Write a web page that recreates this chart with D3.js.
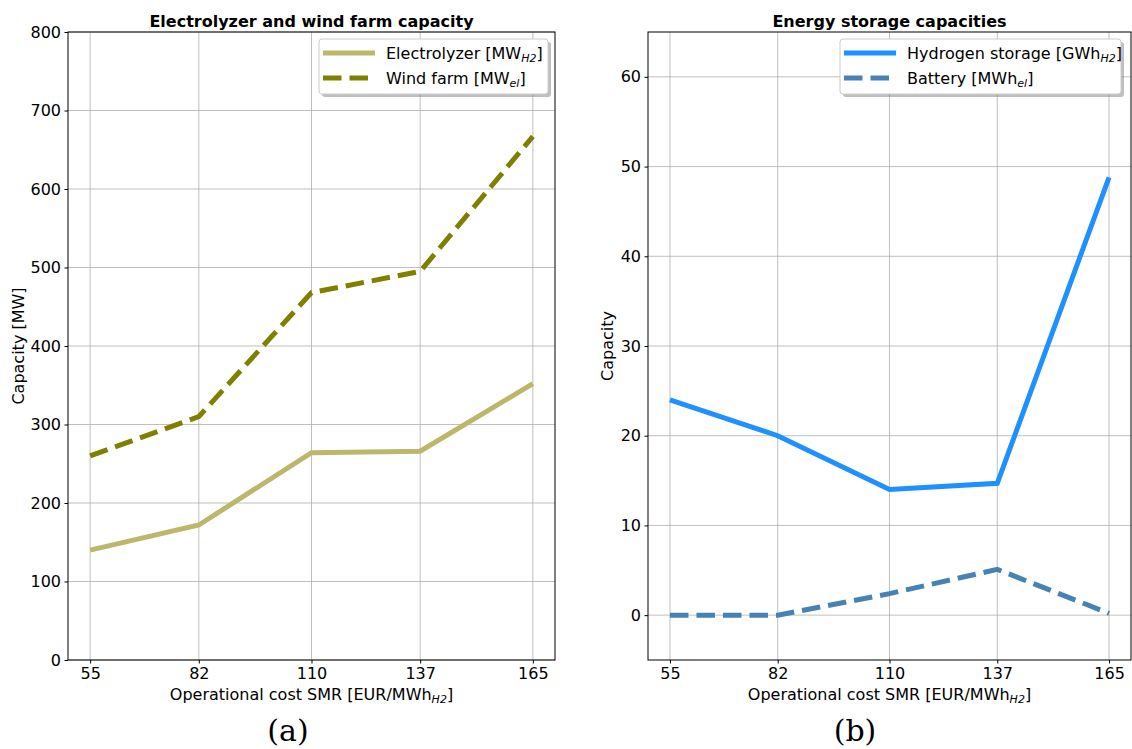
<!DOCTYPE html>
<html>
<head>
<meta charset="utf-8">
<script src="https://cdn.jsdelivr.net/npm/d3@7"></script>
<style>
	body { margin:0; background:#fff; }
	svg text { font-family: 'DejaVu Sans', sans-serif; fill:#000; }
	.grid line { stroke:#b0b0b0; stroke-width:0.8; }
	.axis path, .axis line { stroke:#000; }
</style>
</head>
<body>
<svg id="chart" width="1132" height="749"></svg>
<script>

// data
var costs = [55, 82, 110, 137, 165];
var electrolyzer = [140, 172, 264, 266, 352];
var windFarm = [260, 310, 468, 495, 667];
var hydrogenStorage = [24, 20, 14, 14.7, 48.8];
var battery = [0, 0, 2.4, 5.1, 0.2];
var leftTicks = [0, 100, 200, 300, 400, 500, 600, 700, 800];
var rightTicks = [0, 10, 20, 30, 40, 50, 60];

var svg = d3.select('#chart');

function drawPanel(opts){

	var x = d3.scaleLinear().domain([49.5, 170.5]).range([opts.left, opts.right]);
	var y = d3.scaleLinear().domain(opts.yDomain).range([660, 32]);

	var g = svg.append('g');

	// grid
	g.append('g')
		.attr('class', 'grid')
		.selectAll('line.v')
		.data(costs)
		.enter()
		.append('line')
		.attr('x1', d=>x(d)).attr('x2', d=>x(d))
		.attr('y1', 32).attr('y2', 660);

	g.append('g')
		.attr('class', 'grid')
		.selectAll('line.h')
		.data(opts.ticks)
		.enter()
		.append('line')
		.attr('y1', d=>y(d)).attr('y2', d=>y(d))
		.attr('x1', opts.left).attr('x2', opts.right);

	// lines
	opts.series.forEach(s=>{
		var line = d3.line()
			.x((d,i)=>x(costs[i]))
			.y(d=>y(d));
		g.append('path')
			.datum(s.values)
			.attr('d', line)
			.attr('fill', 'none')
			.attr('stroke', s.color)
			.attr('stroke-width', 5)
			.attr('stroke-dasharray', s.dashed ? '18.5,8' : null);
	})

	// frame
	g.append('rect')
		.attr('x', opts.left).attr('y', 32)
		.attr('width', opts.right - opts.left).attr('height', 628)
		.attr('fill', 'none')
		.attr('stroke', '#000')
		.attr('stroke-width', 1);

	// axes
	g.append('g')
		.attr('class', 'axis')
		.attr('transform', 'translate(0,660)')
		.call(d3.axisBottom(x).tickValues(costs).tickSize(3.5).tickPadding(4).tickSizeOuter(0))
		.call(a=>a.select('.domain').remove())
		.selectAll('text')
		.style('font-size', '16px')
		.style('font-family', "'DejaVu Sans', sans-serif");

	g.append('g')
		.attr('class', 'axis')
		.attr('transform', `translate(${opts.left},0)`)
		.call(d3.axisLeft(y).tickValues(opts.ticks).tickSize(3.5).tickPadding(3.5).tickSizeOuter(0))
		.call(a=>a.select('.domain').remove())
		.selectAll('text')
		.style('font-size', '16px')
		.style('font-family', "'DejaVu Sans', sans-serif");

	// title
	g.append('text')
		.attr('x', (opts.left + opts.right)/2)
		.attr('y', 27)
		.attr('text-anchor', 'middle')
		.style('font-size', '16px')
		.style('font-weight', 'bold')
		.text(opts.title);

	// x label
	var xl = g.append('text')
		.attr('x', (opts.left + opts.right)/2)
		.attr('y', 700)
		.attr('text-anchor', 'middle')
		.style('font-size', '16px');
	xl.append('tspan').text('Operational cost SMR [EUR/MWh');
	xl.append('tspan').attr('dy', 3).style('font-size', '11px').style('font-style', 'italic').text('H2');
	xl.append('tspan').attr('dy', -3).text(']');

	// y label
	g.append('text')
		.attr('transform', `translate(${opts.yLabelX},346) rotate(-90)`)
		.attr('text-anchor', 'middle')
		.style('font-size', '16px')
		.text(opts.yLabel);

	// caption
	g.append('text')
		.attr('x', opts.captionX)
		.attr('y', 741)
		.attr('text-anchor', 'middle')
		.style('font-family', "'DejaVu Serif', serif")
		.style('font-size', '30px')
		.text(opts.caption);

	// legend
	var lg = g.append('g')
		.attr('transform', `translate(${opts.legendX},39)`);

	lg.append('rect')
		.attr('x', 3).attr('y', 3)
		.attr('width', opts.legendW).attr('height', 55)
		.attr('rx', 3)
		.attr('fill', '#808080')
		.attr('opacity', 0.5);

	lg.append('rect')
		.attr('width', opts.legendW).attr('height', 55)
		.attr('rx', 3)
		.attr('fill', '#fff')
		.attr('stroke', '#ccc')
		.attr('stroke-width', 1);

	opts.series.forEach((s,i)=>{
		var ly = 14 + i*25;
		lg.append('line')
			.attr('x1', 4).attr('x2', 56)
			.attr('y1', ly).attr('y2', ly)
			.attr('stroke', s.color)
			.attr('stroke-width', 5)
			.attr('stroke-dasharray', s.dashed ? '18.5,8' : null);
		var t = lg.append('text')
			.attr('x', 67)
			.attr('y', ly + 6)
			.style('font-size', '16px');
		t.append('tspan').text(s.label);
		t.append('tspan').attr('dy', 3).style('font-size', '11px').style('font-style', 'italic').text(s.sub);
		t.append('tspan').attr('dy', -3).text(']');
	})
}

drawPanel({
	left: 68, right: 555,
	yDomain: [0, 800],
	ticks: leftTicks,
	title: 'Electrolyzer and wind farm capacity',
	yLabel: 'Capacity [MW]',
	yLabelX: 24,
	caption: '(a)',
	captionX: 288,
	legendX: 319,
	legendW: 229,
	series: [
		{values: electrolyzer, color: '#bdb76b', dashed: false, label: 'Electrolyzer [MW', sub: 'H2'},
		{values: windFarm, color: '#808000', dashed: true, label: 'Wind farm [MW', sub: 'el'}
	]
})

drawPanel({
	left: 648, right: 1131,
	yDomain: [-5, 65],
	ticks: rightTicks,
	title: 'Energy storage capacities',
	yLabel: 'Capacity',
	yLabelX: 613,
	caption: '(b)',
	captionX: 855,
	legendX: 840,
	legendW: 281,
	series: [
		{values: hydrogenStorage, color: '#1e90ff', dashed: false, label: 'Hydrogen storage [GWh', sub: 'H2'},
		{values: battery, color: '#4682b4', dashed: true, label: 'Battery [MWh', sub: 'el'}
	]
})

</script>
</body>
</html>
